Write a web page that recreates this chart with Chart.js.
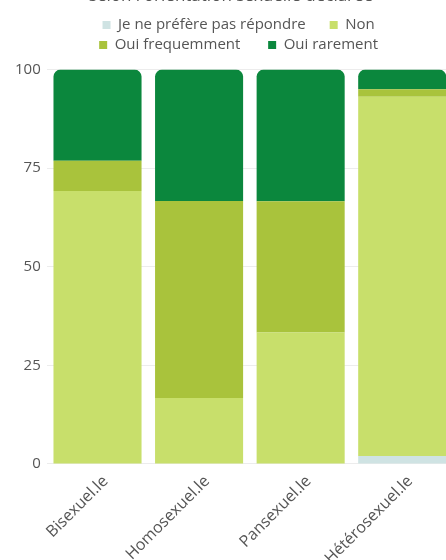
<!DOCTYPE html>
<html>
<head>
<meta charset="utf-8">
<style>
  html, body { margin: 0; padding: 0; background: #fff; overflow: hidden; }
  #frame { position: relative; width: 446px; height: 560px; overflow: hidden; }
  #box { position: absolute; left: 0; top: -22px; width: 453px; height: 590px; }
</style>
<script src="https://cdn.jsdelivr.net/npm/chart.js@4/dist/chart.umd.min.js"></script>
</head>
<body>
<div id="frame"><div id="box"><canvas id="chart"></canvas></div></div>
<script>
// Categories (x axis)
const categories = ['Bisexuel.le', 'Homosexuel.le', 'Pansexuel.le', 'Hétérosexuel.le'];

// Series values, in %
const jeNePrefere = [0, 0, 0, 2];
const non = [69.2, 16.7, 33.3, 91.1];
const ouiFrequemment = [7.7, 50, 33.3, 1.9];
const ouiRarement = [23.1, 33.3, 33.4, 5];

// Y tick labels
const yTicks = [0, 25, 50, 75, 100];

const seriesNames = ['Je ne préfère pas répondre', 'Non', 'Oui frequemment', 'Oui rarement'];
const seriesColors = ['#cfe3e3', '#c8df6b', '#a9c33c', '#0b873d'];
const seriesValues = [jeNePrefere, non, ouiFrequemment, ouiRarement];

const FONT = "'Open Sans', 'Noto Sans', sans-serif";

// trailing room per legend item (sets gaps and centres the two rows)
const legendTail = ['\u2002\u2002 ', '\u2002\u2002\u2002', '\u2002\u2002  ', '\u2002\u2002\u2002'];

const datasets = seriesNames.map((name, i) => ({
  label: name,
  data: seriesValues[i],
  backgroundColor: seriesColors[i],
  borderWidth: 0,
  borderRadius: 7,
  categoryPercentage: 1,
  barPercentage: 0.867
}));

new Chart(document.getElementById('chart'), {
  type: 'bar',
  data: { labels: categories, datasets: datasets },
  options: {
    responsive: true,
    maintainAspectRatio: false,
    animation: false,
    layout: { padding: { left: 9, right: 0, top: 0, bottom: 0 } },
    plugins: {
      title: {
        display: true,
        text: "selon l'orientation sexuelle déclarée",
        color: '#555',
        font: { family: FONT, size: 17, weight: 'normal' },
        padding: { top: 8, bottom: 6 }
      },
      // empty spacer between legend and plot
      subtitle: {
        display: true,
        text: '',
        weight: 500,
        font: { family: FONT, size: 6 },
        padding: 0
      },
      legend: {
        position: 'top',
        fullSize: false,
        labels: {
          color: '#555',
          font: { family: FONT, size: 15 },
          boxWidth: 8,
          boxHeight: 8,
          padding: 5,
          generateLabels: (chart) => {
            const items = Chart.defaults.plugins.legend.labels.generateLabels(chart);
            items.forEach((it, i) => { it.text = it.text + legendTail[i]; });
            return items;
          }
        }
      },
      tooltip: { enabled: false }
    },
    scales: {
      x: {
        stacked: true,
        grid: { display: false },
        border: { display: false },
        ticks: {
          color: '#555',
          font: { family: FONT, size: 16 },
          minRotation: 45,
          maxRotation: 45,
          padding: 0,
          labelOffset: 8
        }
      },
      y: {
        stacked: true,
        min: 0,
        max: 100,
        afterBuildTicks: (axis) => { axis.ticks = yTicks.map(v => ({ value: v })); },
        grid: { color: '#ececec', drawTicks: false },
        border: { display: false },
        ticks: {
          color: '#555',
          font: { family: FONT, size: 15 },
          padding: 6
        }
      }
    }
  }
});
</script>
</body>
</html>
